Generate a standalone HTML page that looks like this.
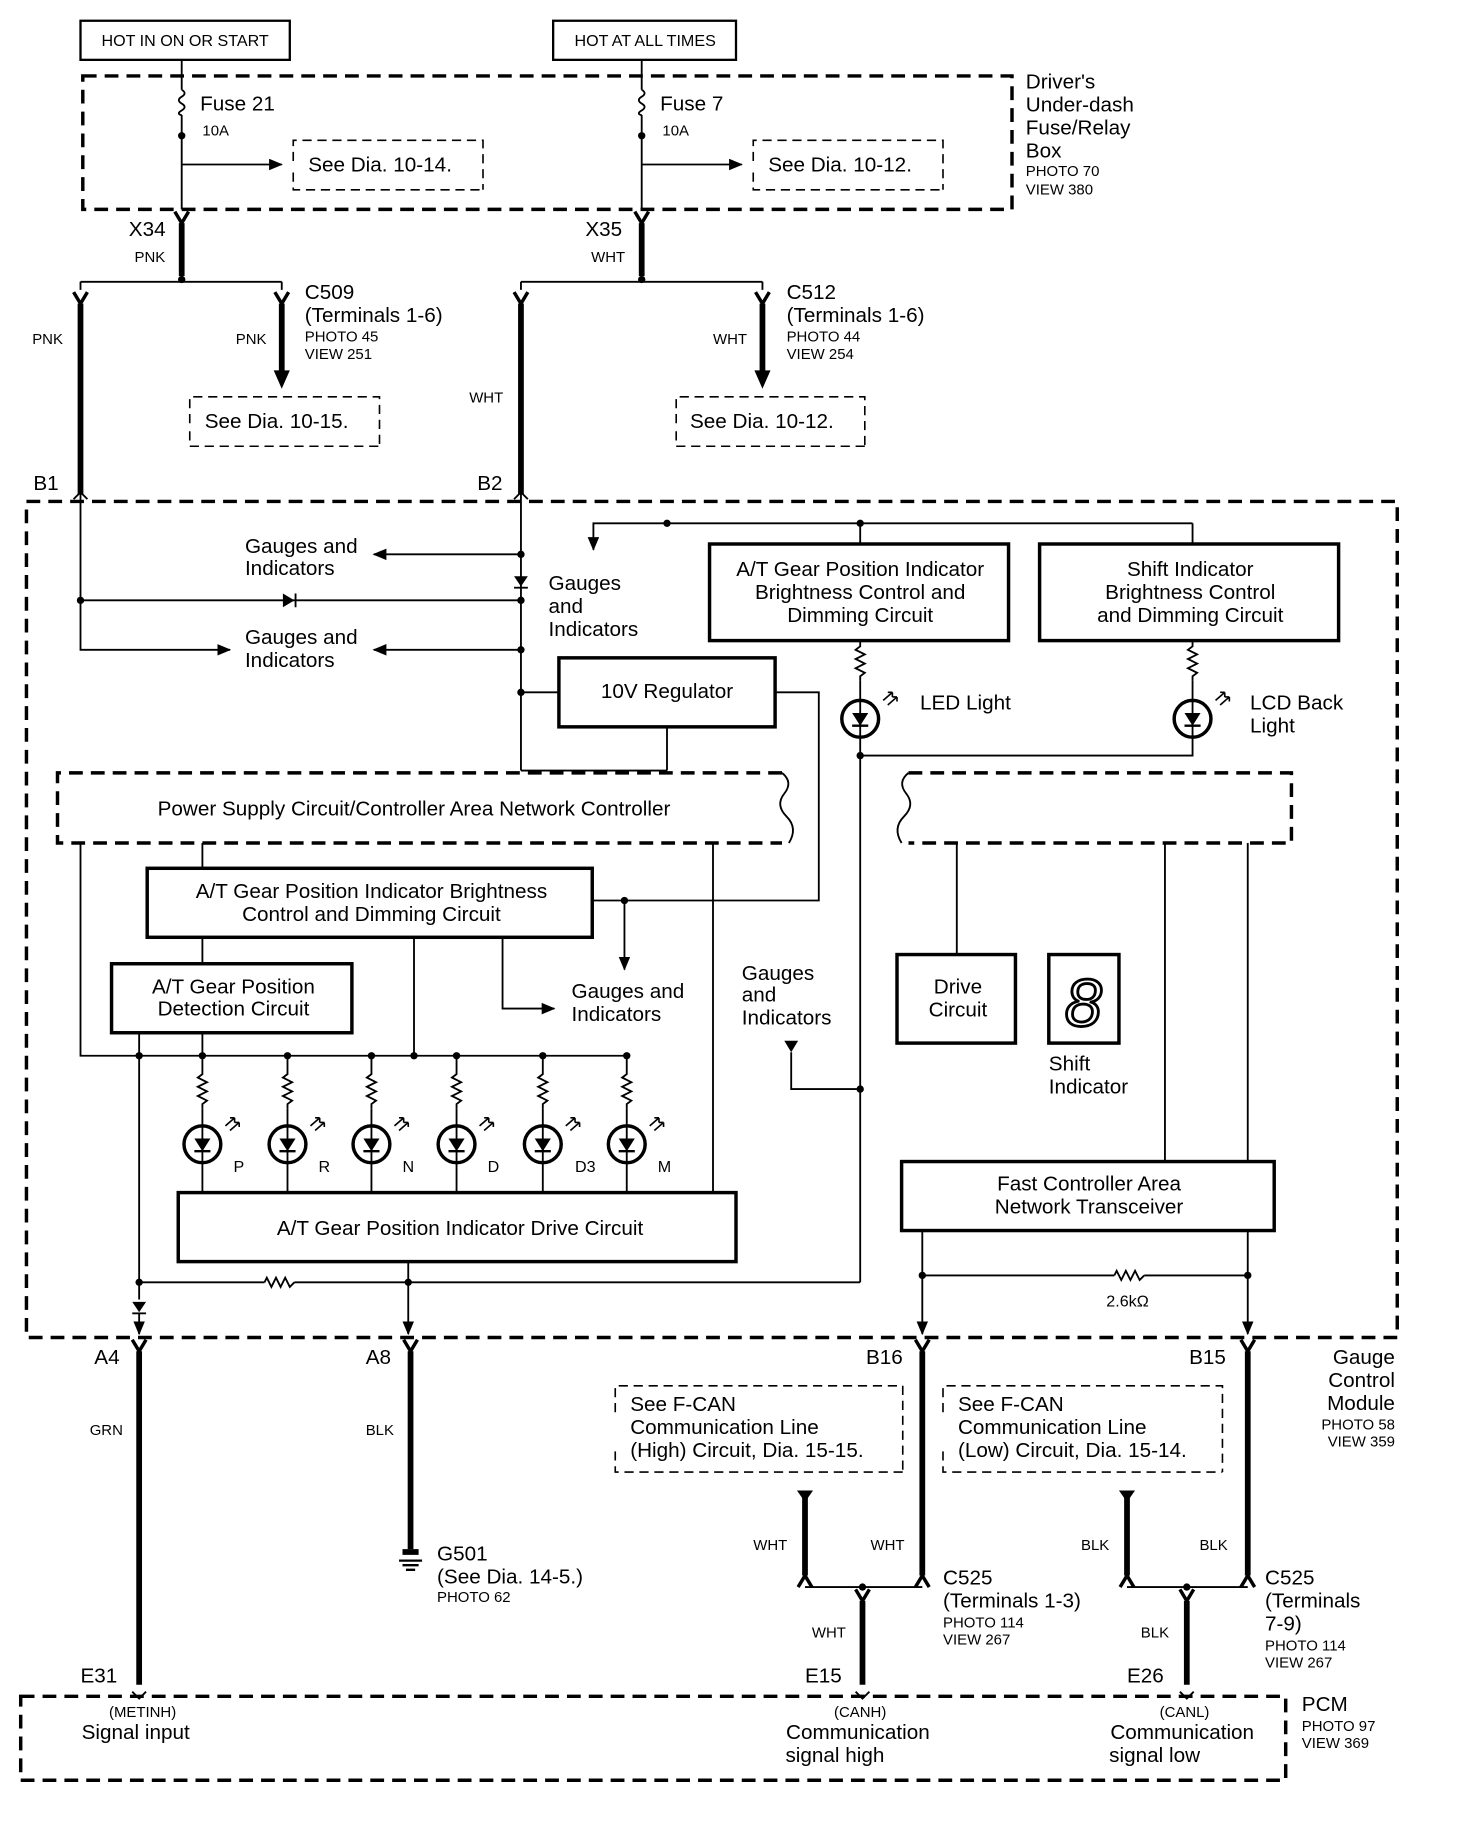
<!DOCTYPE html>
<html><head><meta charset="utf-8"><style>
html,body{margin:0;padding:0;background:#fff;}
svg{display:block;}
text{font-family:"Liberation Sans",sans-serif;fill:#000;}
.t{font-size:18px;}
.s{font-size:13px;}
.w{fill:none;stroke:#000;stroke-width:1.6;}
.k{fill:none;stroke:#000;stroke-width:5;}
.b{fill:#fff;stroke:#000;stroke-width:3;}
.d{fill:none;stroke:#000;stroke-width:3;stroke-dasharray:12,7;}
.d2{fill:none;stroke:#000;stroke-width:1.4;stroke-dasharray:8,5;}
</style></head><body>
<svg width="1472" height="1824" viewBox="0 0 1280 1586" xmlns="http://www.w3.org/2000/svg">
<defs>
<marker id="ar" markerWidth="12" markerHeight="10" refX="11" refY="5" orient="auto" markerUnits="userSpaceOnUse"><path d="M0,0 L12,5 L0,10z"/></marker>
<g id="fork"><path d="M-6,-2 L0,8 L6,-2" fill="none" stroke="#000" stroke-width="3"/></g>
<g id="res"><path d="M0,0 L0,4 L-4,7 L4,11 L-4,15 L4,19 L-4,23 L4,27 L0,30 L0,34" fill="none" stroke="#000" stroke-width="1.6"/></g>
<g id="led"><circle r="16" fill="#fff" stroke="#000" stroke-width="3"/><path d="M0,-16 V16" stroke="#000" stroke-width="1.6"/><path d="M-7,-5 L7,-5 L0,6z"/><path d="M-7,6 H7" stroke="#000" stroke-width="2"/><path d="M20,-16 l8,-7 M24,-12 l8,-7" stroke="#000" stroke-width="1.4"/><path d="M28,-23 l-4,0 M28,-23 l0,4 M32,-19 l-4,0 M32,-19 l0,4" stroke="#000" stroke-width="1.4"/></g>
<g id="dot"><circle r="3.2"/></g>
</defs>
<rect width="1280" height="1586" fill="#fff"/>

<!-- top labels -->
<rect x="70" y="18" width="182" height="34" fill="none" stroke="#000" stroke-width="2"/>
<text x="161" y="40" text-anchor="middle" font-size="14">HOT IN ON OR START</text>
<rect x="481" y="18" width="159" height="34" fill="none" stroke="#000" stroke-width="2"/>
<text x="561" y="40" text-anchor="middle" font-size="14">HOT AT ALL TIMES</text>

<!-- fuse box -->
<rect x="72" y="66" width="808" height="116" class="d"/>
<path class="w" d="M158,52 V78 M158,100 V182"/>
<path class="w" d="M158,78 q5,3 0,6 q-5,3 0,6 q5,3 0,6 q-5,3 0,4"/>
<use href="#dot" x="158" y="118"/>
<path class="w" d="M158,143 H245" marker-end="url(#ar)"/>
<text x="174" y="96" class="t">Fuse 21</text><text x="176" y="118" class="s">10A</text>
<path class="d2" d="M255,140 V122 H420 V165 M255,150 V165 H420"/>
<text x="268" y="149" class="t">See Dia. 10-14.</text>
<path class="w" d="M558,52 V78 M558,100 V182"/>
<path class="w" d="M558,78 q5,3 0,6 q-5,3 0,6 q5,3 0,6 q-5,3 0,4"/>
<use href="#dot" x="558" y="118"/>
<path class="w" d="M558,143 H645" marker-end="url(#ar)"/>
<text x="574" y="96" class="t">Fuse 7</text><text x="576" y="118" class="s">10A</text>
<path class="d2" d="M655,140 V122 H820 V165 M655,150 V165 H820"/>
<text x="668" y="149" class="t">See Dia. 10-12.</text>
<text x="892" y="77" class="t">Driver's</text><text x="892" y="97" class="t">Under-dash</text><text x="892" y="117" class="t">Fuse/Relay</text><text x="892" y="137" class="t">Box</text>
<text x="892" y="153" class="s">PHOTO 70</text><text x="892" y="169" class="s">VIEW 380</text>

<!-- X34 -->
<use href="#fork" x="158" y="186"/><path class="k" d="M158,194 V240"/>
<text x="112" y="205" class="t">X34</text><text x="117" y="228" class="s">PNK</text>
<path class="w" d="M70,245 H245"/><use href="#dot" x="158" y="243"/>
<path class="w" d="M70,245 V252 M245,245 V252"/>
<use href="#fork" x="70" y="256"/><path class="k" d="M70,264 V430"/>
<use href="#fork" x="245" y="256"/><path class="k" d="M245,264 V325"/><path d="M238,322 L252,322 L245,338z"/>
<text x="28" y="299" class="s">PNK</text><text x="205" y="299" class="s">PNK</text>
<text x="265" y="260" class="t">C509</text><text x="265" y="280" class="t">(Terminals 1-6)</text>
<text x="265" y="297" class="s">PHOTO 45</text><text x="265" y="312" class="s">VIEW 251</text>
<path class="d2" d="M165,368 V345 H330 V388 M165,375 V388 H330"/>
<text x="178" y="372" class="t">See Dia. 10-15.</text>
<!-- X35 -->
<use href="#fork" x="558" y="186"/><path class="k" d="M558,194 V240"/>
<text x="509" y="205" class="t">X35</text><text x="514" y="228" class="s">WHT</text>
<path class="w" d="M453,245 H663"/><use href="#dot" x="558" y="243"/>
<path class="w" d="M453,245 V252 M663,245 V252"/>
<use href="#fork" x="453" y="256"/><path class="k" d="M453,264 V430"/>
<use href="#fork" x="663" y="256"/><path class="k" d="M663,264 V325"/><path d="M656,322 L670,322 L663,338z"/>
<text x="408" y="350" class="s">WHT</text><text x="620" y="299" class="s">WHT</text>
<text x="684" y="260" class="t">C512</text><text x="684" y="280" class="t">(Terminals 1-6)</text>
<text x="684" y="297" class="s">PHOTO 44</text><text x="684" y="312" class="s">VIEW 254</text>
<path class="d2" d="M588,368 V345 H752 V388 M588,375 V388 H752"/>
<text x="600" y="372" class="t">See Dia. 10-12.</text>
<text x="29" y="426" class="t">B1</text><text x="415" y="426" class="t">B2</text>

<!-- main module -->
<rect x="23" y="436" width="1192" height="727" class="d"/>
<path class="w" d="M64,434 L70,428 L76,434 M447,434 L453,428 L459,434"/>
<path class="w" d="M70,430 V565 H200" marker-end="url(#ar)"/>
<path class="w" d="M70,522 H453"/><use href="#dot" x="70" y="522"/><use href="#dot" x="453" y="522"/>
<path d="M246,516 L246,528 L256,522z"/><path d="M257,516 V528" stroke="#000" stroke-width="1.6"/>
<path class="w" d="M453,430 V670"/>
<path d="M447,501 L459,501 L453,510z"/><path d="M447,511 H459" stroke="#000" stroke-width="1.6"/>
<use href="#dot" x="453" y="482"/><use href="#dot" x="453" y="565"/><use href="#dot" x="453" y="602"/>
<path class="w" d="M453,482 H325" marker-end="url(#ar)"/>
<path class="w" d="M453,565 H325" marker-end="url(#ar)"/>
<text x="213" y="481" class="t">Gauges and</text><text x="213" y="500" class="t">Indicators</text>
<text x="213" y="560" class="t">Gauges and</text><text x="213" y="580" class="t">Indicators</text>
<path class="w" d="M453,602 H486"/>
<rect x="486" y="572" width="188" height="60" class="b" stroke-width="2.5"/>
<text x="580" y="607" class="t" text-anchor="middle">10V Regulator</text>
<path class="w" d="M580,632 V670 M453,670 H580"/>
<path class="w" d="M674,602 H712 V783 H515"/>
<path class="w" d="M1037,455 H516 V478" marker-end="url(#ar)"/>
<use href="#dot" x="580" y="455"/><use href="#dot" x="748" y="455"/>
<text x="477" y="513" class="t">Gauges</text><text x="477" y="533" class="t">and</text><text x="477" y="553" class="t">Indicators</text>
<path class="w" d="M748,455 V473 M1037,455 V473"/>
<rect x="617" y="473" width="260" height="84" class="b"/>
<text x="748" y="501" class="t" text-anchor="middle">A/T Gear Position Indicator</text>
<text x="748" y="521" class="t" text-anchor="middle">Brightness Control and</text>
<text x="748" y="541" class="t" text-anchor="middle">Dimming Circuit</text>
<rect x="904" y="473" width="260" height="84" class="b"/>
<text x="1035" y="501" class="t" text-anchor="middle">Shift Indicator</text>
<text x="1035" y="521" class="t" text-anchor="middle">Brightness Control</text>
<text x="1035" y="541" class="t" text-anchor="middle">and Dimming Circuit</text>
<use href="#res" x="748" y="558"/><path class="w" d="M748,592 V609"/>
<use href="#led" x="748" y="625"/>
<use href="#res" x="1037" y="558"/><path class="w" d="M1037,592 V609"/>
<use href="#led" x="1037" y="625"/>
<text x="800" y="617" class="t">LED Light</text>
<text x="1087" y="617" class="t">LCD Back</text><text x="1087" y="637" class="t">Light</text>
<path class="w" d="M748,641 V1115 M1037,641 V657 H748"/><use href="#dot" x="748" y="657"/>

<!-- power supply dashed -->
<path class="d" d="M680,672 H50 V733 H680"/>
<path class="w" d="M680,672 q10,8 2,18 q-8,10 2,20 q10,10 2,23" stroke-width="2"/>
<path class="d" d="M790,672 H1123 V733 H790"/>
<path class="w" d="M790,672 q-10,8 -2,18 q8,10 -2,20 q-10,10 -2,23" stroke-width="2"/>
<text x="360" y="709" class="t" text-anchor="middle">Power Supply Circuit/Controller Area Network Controller</text>
<path class="w" d="M70,733 V918 H545 M176,733 V755 M620,733 V1037"/>
<rect x="128" y="755" width="387" height="60" class="b"/>
<text x="323" y="781" class="t" text-anchor="middle">A/T Gear Position Indicator Brightness</text>
<text x="323" y="801" class="t" text-anchor="middle">Control and Dimming Circuit</text>
<use href="#dot" x="543" y="783"/><path class="w" d="M543,783 V843" marker-end="url(#ar)"/>
<path class="w" d="M437,815 V877 H482" marker-end="url(#ar)"/>
<text x="497" y="868" class="t">Gauges and</text><text x="497" y="888" class="t">Indicators</text>
<path class="w" d="M176,815 V838 M360,815 V918"/>
<rect x="97" y="838" width="209" height="60" class="b"/>
<text x="203" y="864" class="t" text-anchor="middle">A/T Gear Position</text>
<text x="203" y="883" class="t" text-anchor="middle">Detection Circuit</text>
<path class="w" d="M121,898 V1130 M176,898 V918"/>
<use href="#dot" x="121" y="918"/>
<g>
<use href="#dot" x="176" y="918"/><use href="#dot" x="250" y="918"/><use href="#dot" x="323" y="918"/><use href="#dot" x="360" y="918"/><use href="#dot" x="397" y="918"/><use href="#dot" x="472" y="918"/><use href="#dot" x="545" y="918"/>
<use href="#res" x="176" y="930"/><use href="#res" x="250" y="930"/><use href="#res" x="323" y="930"/><use href="#res" x="397" y="930"/><use href="#res" x="472" y="930"/><use href="#res" x="545" y="930"/>
<path class="w" d="M176,918 V930 M250,918 V930 M323,918 V930 M397,918 V930 M472,918 V930 M545,918 V930 M176,964 V1037 M250,964 V1037 M323,964 V1037 M397,964 V1037 M472,964 V1037 M545,964 V1037"/>
<use href="#led" x="176" y="995"/><use href="#led" x="250" y="995"/><use href="#led" x="323" y="995"/><use href="#led" x="397" y="995"/><use href="#led" x="472" y="995"/><use href="#led" x="545" y="995"/>
</g>
<text x="203" y="1019" font-size="14">P</text><text x="277" y="1019" font-size="14">R</text><text x="350" y="1019" font-size="14">N</text><text x="424" y="1019" font-size="14">D</text><text x="500" y="1019" font-size="14">D3</text><text x="572" y="1019" font-size="14">M</text>
<rect x="155" y="1037" width="485" height="60" class="b"/>
<text x="400" y="1074" class="t" text-anchor="middle">A/T Gear Position Indicator Drive Circuit</text>
<path class="w" d="M121,1115 H230 M256,1115 H748"/>
<path class="w" d="M230,1115 l2,-4 l4,8 l4,-8 l4,8 l4,-8 l4,8 l4,-4" />
<use href="#dot" x="121" y="1115"/><use href="#dot" x="355" y="1115"/>
<path class="w" d="M355,1097 V1160" marker-end="url(#ar)"/>
<path d="M115,1132 L127,1132 L121,1141z"/><path d="M115,1142 H127" stroke="#000" stroke-width="1.6"/>
<path class="w" d="M121,1142 V1160" marker-end="url(#ar)"/>
<text x="645" y="852" class="t">Gauges</text><text x="645" y="871" class="t">and</text><text x="645" y="891" class="t">Indicators</text>
<path d="M682,905 L694,905 L688,915z"/><path class="w" d="M688,915 V947 H748"/><use href="#dot" x="748" y="947"/>

<!-- right part -->
<path class="w" d="M832,733 V830 M1013,733 V1010 M1085,733 V1010"/>
<rect x="780" y="830" width="103" height="77" class="b"/>
<text x="833" y="864" class="t" text-anchor="middle">Drive</text><text x="833" y="884" class="t" text-anchor="middle">Circuit</text>
<rect x="912" y="830" width="61" height="77" class="b" stroke-width="2.5"/>
<text x="942" y="892" font-size="58" text-anchor="middle" font-style="italic" fill="none" stroke="#000" stroke-width="2.5" style="fill:none">8</text>
<text x="912" y="931" class="t">Shift</text><text x="912" y="951" class="t">Indicator</text>
<rect x="784" y="1010" width="324" height="60" class="b"/>
<text x="947" y="1035" class="t" text-anchor="middle">Fast Controller Area</text>
<text x="947" y="1055" class="t" text-anchor="middle">Network Transceiver</text>
<path class="w" d="M802,1070 V1160" marker-end="url(#ar)"/>
<path class="w" d="M1085,1070 V1160" marker-end="url(#ar)"/>
<path class="w" d="M802,1109 H969 M995,1109 H1085"/>
<path class="w" d="M969,1109 l2,-4 l4,8 l4,-8 l4,8 l4,-8 l4,8 l4,-4"/>
<use href="#dot" x="802" y="1109"/><use href="#dot" x="1085" y="1109"/>
<text x="962" y="1136" font-size="14">2.6kΩ</text>

<!-- below module -->
<text x="82" y="1186" class="t">A4</text><text x="318" y="1186" class="t">A8</text>
<text x="753" y="1186" class="t">B16</text><text x="1034" y="1186" class="t">B15</text>
<use href="#fork" x="121" y="1167"/><path class="k" d="M121,1175 V1465"/>
<use href="#fork" x="357" y="1167"/><path class="k" d="M357,1175 V1347"/>
<path d="M350,1347 H364 V1352 H350z"/><path d="M347,1357 H367 M350,1361 H364 M353,1365 H361" stroke="#000" stroke-width="2"/>
<use href="#fork" x="802" y="1167"/><path class="k" d="M802,1175 V1370"/>
<use href="#fork" x="1085" y="1167"/><path class="k" d="M1085,1175 V1370"/>
<text x="78" y="1248" class="s">GRN</text><text x="318" y="1248" class="s">BLK</text>
<text x="380" y="1357" class="t">G501</text><text x="380" y="1377" class="t">(See Dia. 14-5.)</text><text x="380" y="1393" class="s">PHOTO 62</text>
<text x="1213" y="1186" class="t" text-anchor="end">Gauge</text><text x="1213" y="1206" class="t" text-anchor="end">Control</text><text x="1213" y="1226" class="t" text-anchor="end">Module</text>
<text x="1213" y="1243" class="s" text-anchor="end">PHOTO 58</text><text x="1213" y="1258" class="s" text-anchor="end">VIEW 359</text>
<path class="d2" d="M535,1228 V1205 H785 V1280 M535,1262 V1280 H785"/>
<text x="548" y="1227" class="t">See F-CAN</text><text x="548" y="1247" class="t">Communication Line</text><text x="548" y="1267" class="t">(High) Circuit, Dia. 15-15.</text>
<path class="d2" d="M820,1228 V1205 H1063 V1280 M820,1262 V1280 H1063"/>
<text x="833" y="1227" class="t">See F-CAN</text><text x="833" y="1247" class="t">Communication Line</text><text x="833" y="1267" class="t">(Low) Circuit, Dia. 15-14.</text>
<path d="M693,1296 H707 L700,1306z"/><path class="k" d="M700,1300 V1370"/>
<path d="M973,1296 H987 L980,1306z"/><path class="k" d="M980,1300 V1370"/>
<use href="#fork" x="700" y="1370" transform="rotate(180 700 1374)"/><use href="#fork" x="802" y="1370" transform="rotate(180 802 1374)"/>
<use href="#fork" x="980" y="1370" transform="rotate(180 980 1374)"/><use href="#fork" x="1085" y="1370" transform="rotate(180 1085 1374)"/>
<path class="w" d="M700,1380 H802 M980,1380 H1085"/>
<use href="#dot" x="750" y="1380"/><use href="#dot" x="1032" y="1380"/>
<use href="#fork" x="750" y="1384"/><path class="k" d="M750,1392 V1465"/>
<use href="#fork" x="1032" y="1384"/><path class="k" d="M1032,1392 V1465"/>
<text x="655" y="1348" class="s">WHT</text><text x="757" y="1348" class="s">WHT</text>
<text x="940" y="1348" class="s">BLK</text><text x="1043" y="1348" class="s">BLK</text>
<text x="706" y="1424" class="s">WHT</text><text x="992" y="1424" class="s">BLK</text>
<text x="820" y="1378" class="t">C525</text><text x="820" y="1398" class="t">(Terminals 1-3)</text><text x="820" y="1415" class="s">PHOTO 114</text><text x="820" y="1430" class="s">VIEW 267</text>
<text x="1100" y="1378" class="t">C525</text><text x="1100" y="1398" class="t">(Terminals</text><text x="1100" y="1418" class="t">7-9)</text><text x="1100" y="1435" class="s">PHOTO 114</text><text x="1100" y="1450" class="s">VIEW 267</text>
<text x="70" y="1463" class="t">E31</text><text x="700" y="1463" class="t">E15</text><text x="980" y="1463" class="t">E26</text>

<!-- PCM -->
<rect x="18" y="1475" width="1100" height="73" class="d"/>
<path class="w" d="M115,1471 L121,1477 L127,1471 M744,1471 L750,1477 L756,1471 M1026,1471 L1032,1477 L1038,1471"/>
<text x="124" y="1493" class="s" text-anchor="middle">(METINH)</text><text x="118" y="1512" class="t" text-anchor="middle">Signal input</text>
<text x="748" y="1493" class="s" text-anchor="middle">(CANH)</text><text x="746" y="1512" class="t" text-anchor="middle">Communication</text><text x="726" y="1532" class="t" text-anchor="middle">signal high</text>
<text x="1030" y="1493" class="s" text-anchor="middle">(CANL)</text><text x="1028" y="1512" class="t" text-anchor="middle">Communication</text><text x="1004" y="1532" class="t" text-anchor="middle">signal low</text>
<text x="1132" y="1488" class="t">PCM</text><text x="1132" y="1505" class="s">PHOTO 97</text><text x="1132" y="1520" class="s">VIEW 369</text>
</svg>
</body></html>
